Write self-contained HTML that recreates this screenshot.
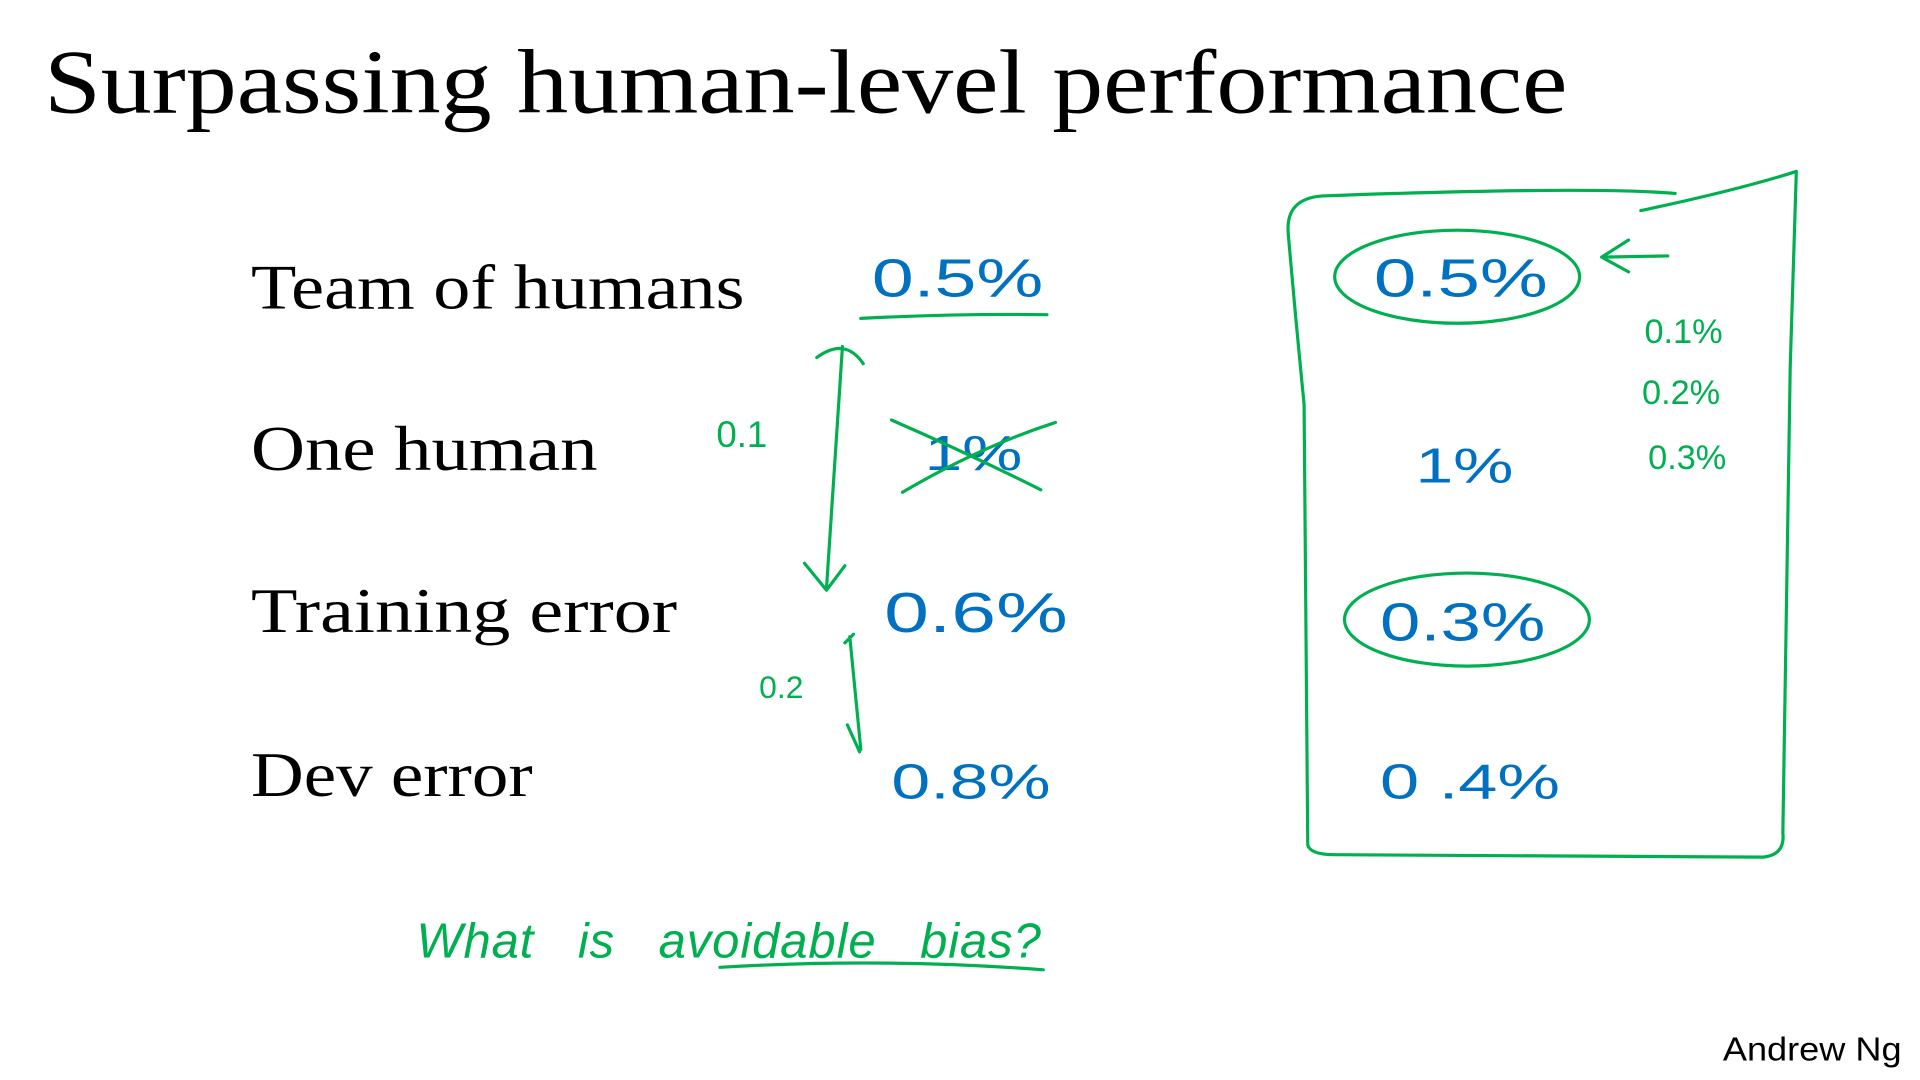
<!DOCTYPE html>
<html><head><meta charset="utf-8"><style>
html,body{margin:0;padding:0;background:#fff;}
svg{display:block}
.serif{font-family:"Liberation Serif",serif;fill:#000}
.hb{font-family:"Liberation Sans",sans-serif;fill:#0070C0;font-weight:normal}
.hg{font-family:"Liberation Sans",sans-serif;fill:#00B050}
.g{stroke:#00B050;stroke-width:2.6;fill:none;stroke-linecap:round;stroke-linejoin:round}
</style></head><body>
<svg width="1920" height="1080" viewBox="0 0 1568 882">
<text class="serif" x="36" y="92" font-size="74" textLength="1244" lengthAdjust="spacingAndGlyphs">Surpassing human-level performance</text>
<text class="serif" x="205" y="252" font-size="52" textLength="403" lengthAdjust="spacingAndGlyphs">Team of humans</text>
<text class="serif" x="205" y="384" font-size="52" textLength="283" lengthAdjust="spacingAndGlyphs">One human</text>
<text class="serif" x="205" y="516" font-size="52" textLength="348" lengthAdjust="spacingAndGlyphs">Training error</text>
<text class="serif" x="205" y="650" font-size="52" textLength="230" lengthAdjust="spacingAndGlyphs">Dev error</text>

<text class="hb" x="712" y="242" font-size="44" textLength="140" lengthAdjust="spacingAndGlyphs">0.5%</text>
<path class="g" d="M703 260 Q780 256 855 257"/>
<text class="hb" x="755" y="384" font-size="40" textLength="80" lengthAdjust="spacingAndGlyphs">1%</text>
<path class="g" d="M728 343 Q790 370 850 400 M737 402 Q800 365 862 345"/>
<text class="hb" x="722" y="516" font-size="46" textLength="150" lengthAdjust="spacingAndGlyphs">0.6%</text>
<text class="hb" x="728" y="652" font-size="40" textLength="130" lengthAdjust="spacingAndGlyphs">0.8%</text>

<path class="g" d="M688 283 L675 480 M657 460 L675 482 L690 462 M667 292 Q690 275 705 297"/>
<text class="hg" x="585" y="365" font-size="30">0.1</text>
<path class="g" d="M694 520 L703 612 M692 592 L702 614 M690 525 L697 518"/>
<text class="hg" x="620" y="570" font-size="26">0.2</text>

<text class="hg" x="340" y="782" font-size="40" font-style="italic" textLength="510" lengthAdjust="spacing">What&#160;&#160;&#160;is&#160;&#160;&#160;avoidable&#160;&#160;&#160;bias?</text>
<path class="g" d="M588 790 Q720 782 852 792"/>

<path class="g" d="M1368 158 Q1300 152 1080 160 Q1050 162 1052 190 Q1058 260 1065 330 L1068 690 Q1070 698 1090 698 L1440 700 Q1458 698 1456 680 L1462 300 L1467 140 M1340 172 Q1420 155 1467 140"/>
<path class="g" d="M1362 209 L1308 210 M1330 196 L1308 210 L1330 222"/>
<ellipse class="g" cx="1190" cy="226" rx="100" ry="38"/>
<text class="hb" x="1122" y="242" font-size="44" textLength="142" lengthAdjust="spacingAndGlyphs">0.5%</text>
<text class="hb" x="1156" y="394" font-size="40" textLength="80" lengthAdjust="spacingAndGlyphs">1%</text>
<ellipse class="g" cx="1198" cy="506" rx="100" ry="38"/>
<text class="hb" x="1127" y="523" font-size="44" textLength="135" lengthAdjust="spacingAndGlyphs">0.3%</text>
<text class="hb" x="1127" y="652" font-size="40" textLength="147" lengthAdjust="spacingAndGlyphs">0&#160;.4%</text>
<text class="hg" x="1343" y="280" font-size="28">0.1%</text>
<text class="hg" x="1341" y="330" font-size="28">0.2%</text>
<text class="hg" x="1346" y="383" font-size="28">0.3%</text>

<text x="1407" y="866" font-size="27" font-family="Liberation Sans, sans-serif" fill="#000" textLength="146" lengthAdjust="spacingAndGlyphs">Andrew Ng</text>
</svg>
</body></html>
